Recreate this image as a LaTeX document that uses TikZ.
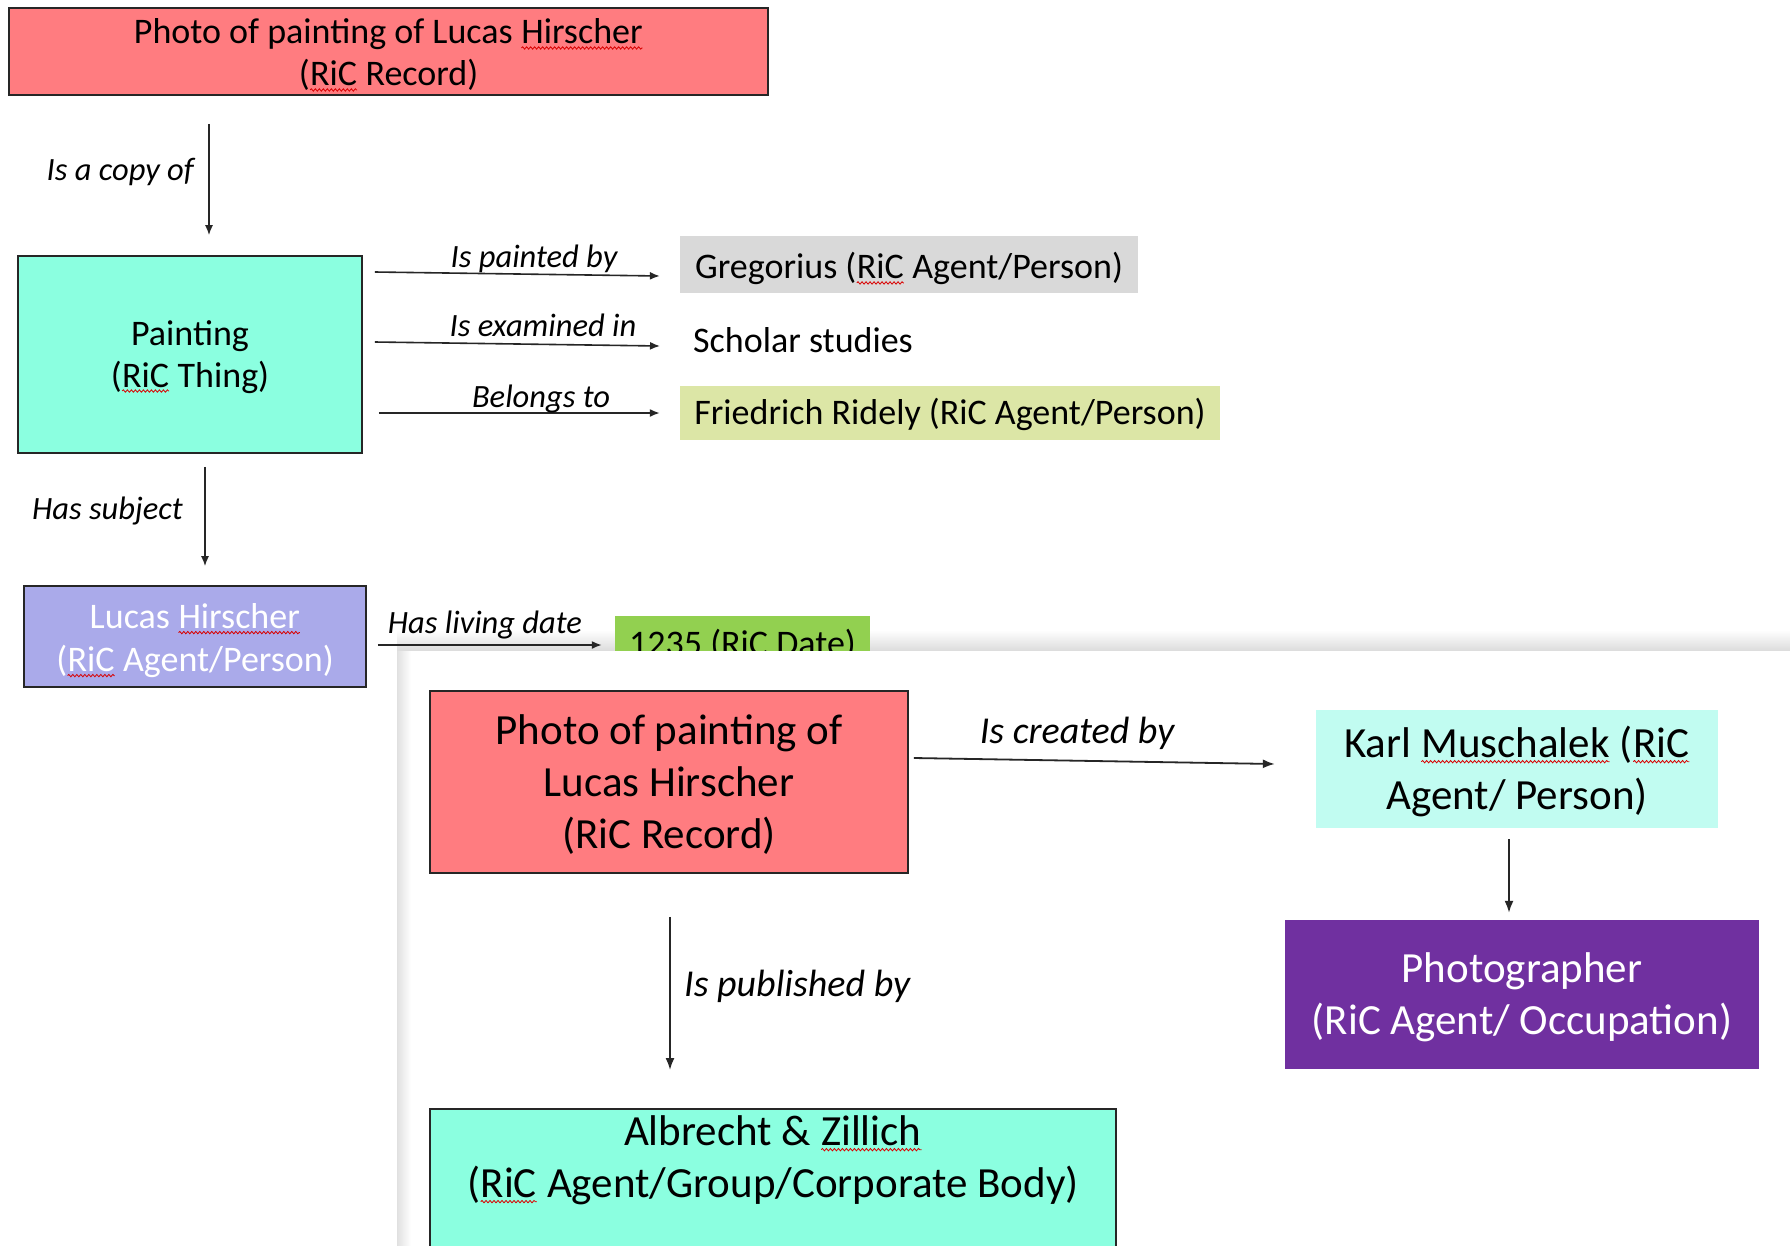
\documentclass[tikz,border=0pt]{standalone}
\usepackage{fontspec}
\setmainfont{Carlito}
\usetikzlibrary{arrows.meta,decorations.pathmorphing}
\definecolor{recred}{HTML}{FF7C80}
\definecolor{aqua}{HTML}{8BFFE0}
\definecolor{greggrey}{HTML}{D9D9D9}
\definecolor{friedgreen}{HTML}{DCE6A6}
\definecolor{lucasblue}{HTML}{AAAAEA}
\definecolor{dategreen}{HTML}{92D050}
\definecolor{karlcyan}{HTML}{C1FCF1}
\definecolor{photopurple}{HTML}{7030A0}
\newcommand{\squig}[1]{\tikz[baseline=(sqw.base)]{\node[inner sep=0pt,outer sep=0pt,draw=none,fill=none,minimum size=0pt,anchor=base](sqw){#1};\draw[red!85!black,line width=0.8pt,decorate,decoration={snake,amplitude=1.2pt,segment length=4pt}]([yshift=-4pt]sqw.base west)--([yshift=-4pt]sqw.base east);}}
% fixed first-line height and last-line depth, so that text sits where wanted
\newcommand{\up}[1]{\rule{0pt}{\dimexpr1em+(#1)\relax}}
\newcommand{\dn}[1]{\rule[\dimexpr-0.3em-(#1)\relax]{0pt}{0pt}}
\begin{document}
\begin{tikzpicture}[x=1pt,y=-1pt,
  box/.style={draw=black!85, line width=1.6pt, inner sep=0pt, align=center},
  plain/.style={inner sep=0pt, align=center},
  topf/.style={font=\fontsize{36}{42}\selectfont},
  botf/.style={font=\fontsize{43}{52}\selectfont},
  lab/.style={font=\fontsize{32.5}{38}\selectfont\itshape, inner sep=0pt},
  blab/.style={font=\fontsize{38}{44}\selectfont\itshape, inner sep=0pt},
  arr/.style={-{Latex[length=10pt,width=8pt]}, line width=1.6pt, draw=black!85},
  barr/.style={-{Latex[length=12pt,width=9pt]}, line width=1.8pt, draw=black!85}]
\useasboundingbox (0,0) rectangle (1790,1245);
\clip (0,0) rectangle (1790,1245);
\fill[white] (0,0) rectangle (1790,1245);
% shadow above the overlaid panel
\shade[top color=white, bottom color=black!14] (397,630) rectangle (1790,651);
% upper diagram
\node[box, fill=recred, topf, minimum width=759pt, minimum height=87pt] (rec1) at (388.5,51.5) {\up{-2.3pt}Photo of painting of Lucas \squig{Hirscher}\\(\squig{RiC} Record)\dn{-4pt}};
\node[box, fill=aqua, topf, minimum width=344pt, minimum height=197pt] (paint) at (190,354.5) {\up{-2.2pt}Painting\\(\squig{RiC} Thing)\dn{0pt}};
\node[plain, fill=greggrey, topf, minimum width=458pt, minimum height=57pt] (greg) at (909,264.5) {\up{3.7pt}Gregorius (\squig{RiC} Agent/Person)\dn{0pt}};
\node[plain, topf, anchor=west] (schol) at (693,340) {Scholar studies};
\node[plain, fill=friedgreen, topf, minimum width=540pt, minimum height=54pt] (fried) at (950,413) {\up{-3.2pt}Friedrich Ridely (RiC Agent/Person)\dn{0pt}};
\node[box, fill=lucasblue, text=white, topf, minimum width=342pt, minimum height=101pt] (lucas) at (195,636.5) {\up{2pt}Lucas \squig{Hirscher}\\[1pt](\squig{RiC} Agent/Person)\dn{0pt}};
\node[plain, fill=dategreen, topf, minimum width=255pt, minimum height=57pt] (date) at (742.5,644.5) {\up{-4pt}1235 (RiC Date)\dn{0pt}};

\draw[arr] ([shift={(-179.5,28)}]rec1.south) -- ([shift={(19,-20)}]paint.north);
\node[lab, anchor=east] (lcopy) at (194,171.5) {Is a copy of};
\draw[arr] ([shift={(12,-82.5)}]paint.east) -- ([shift={(-20,11.5)}]greg.west);
\node[lab] (lpaint) at (534,258.5) {Is painted by};
\draw[arr] ([shift={(12,-12.5)}]paint.east) -- ([shift={(-33,6)}]schol.west);
\node[lab] (lexam) at (543,325) {Is examined in};
\draw[arr] ([shift={(16,58.5)}]paint.east) -- ([shift={(-20,0)}]fried.west);
\node[lab] (lbel) at (541,398.5) {Belongs to};
\draw[arr] ([shift={(15,13)}]paint.south) -- ([shift={(10,-19)}]lucas.north);
\node[lab, anchor=east] (lsubj) at (183,510.5) {Has subject};
\draw[arr] ([shift={(11,8.5)}]lucas.east) -- ([shift={(-13,0.5)}]date.west);
\node[lab] (lliv) at (485,624.5) {Has living date};

% overlaid panel
\fill[white] (397,651) rectangle (1790,1245);
\shade[left color=black!12, right color=white] (397,651) rectangle (411,1245);

\node[box, fill=recred, botf, minimum width=478pt, minimum height=182pt] (rec2) at (669,782) {\up{-0.5pt}Photo of painting of\\Lucas Hirscher\\(RiC Record)\dn{0pt}};
\node[plain, fill=karlcyan, botf, minimum width=402pt, minimum height=118pt] (karl) at (1517,769) {\up{-0.8pt}Karl \squig{Muschalek} (\squig{RiC}\\Agent/ Person)\dn{0pt}};
\node[plain, fill=photopurple, text=white, botf, minimum width=474pt, minimum height=149pt] (photog) at (1522,994.5) {\up{-1.4pt}Photographer\\(RiC Agent/ Occupation)\dn{0pt}};
\node[box, fill=aqua, botf, anchor=north, minimum width=686pt, inner ysep=7pt, text depth=150pt] (albr) at (773,1108) {Albrecht \& \squig{Zillich}\\(\squig{RiC} Agent/Group/Corporate Body)};

\draw[barr] ([shift={(5,-24)}]rec2.east) -- ([shift={(-41,-5)}]karl.west);
\node[blab] (lcreat) at (1077,733.5) {Is created by};
\draw[barr] ([shift={(-8,11)}]karl.south) -- ([shift={(-13,-7)}]photog.north);
\draw[barr] ([shift={(1,43)}]rec2.south) -- ([shift={(-103,-38)}]albr.north);
\node[blab, anchor=west] (lpub) at (684,986) {Is published by};
\end{tikzpicture}
\end{document}
